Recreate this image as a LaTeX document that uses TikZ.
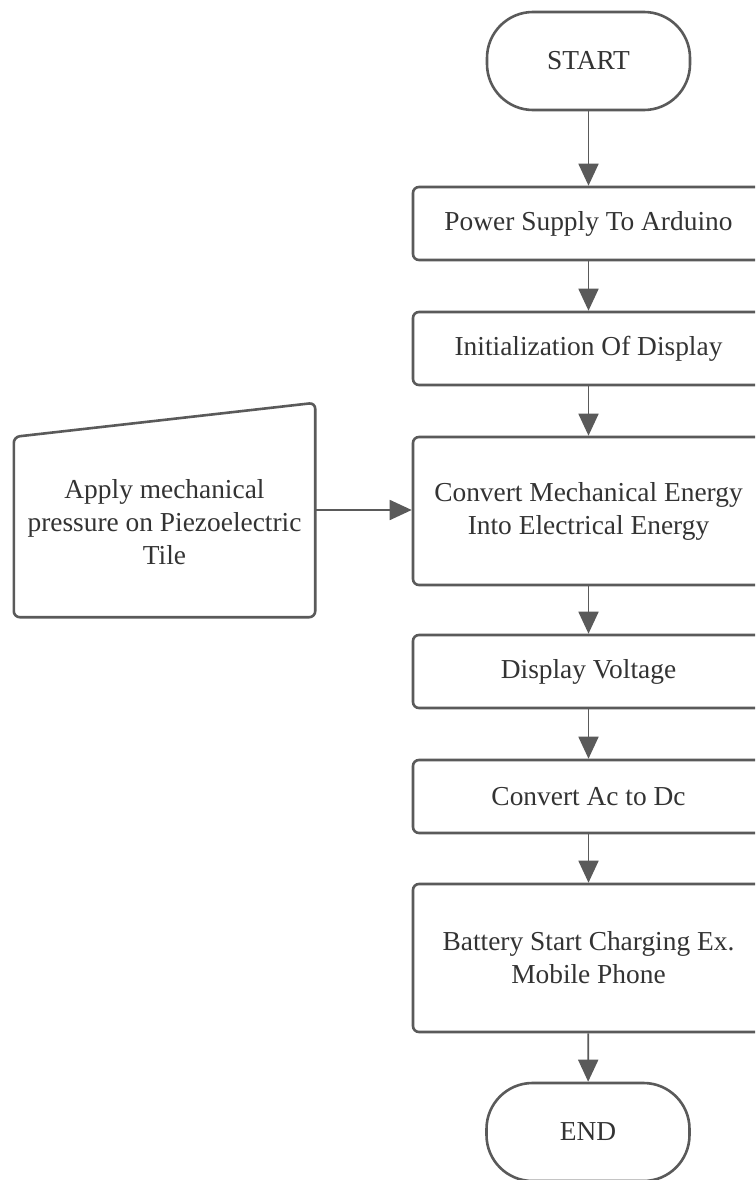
\documentclass[tikz,border=0pt]{standalone}
\usepackage{fontspec}
\setmainfont{Liberation Serif}
\usetikzlibrary{arrows.meta,calc}
\definecolor{linec}{HTML}{5A5A5A}
\definecolor{textc}{HTML}{333333}
\begin{document}
\begin{tikzpicture}[x=1pt,y=-1pt,
  every node/.style={font=\fontsize{27.4}{33}\selectfont, text=textc},
  stepbox/.style={draw=linec, line width=2.6pt, rounded corners=6pt, minimum width=351pt, minimum height=73pt, align=center, inner sep=0pt},
  tallbox/.style={stepbox, minimum height=148pt},
  term/.style={draw=linec, line width=2.6pt, rounded corners=46pt, minimum width=203pt, minimum height=98pt, inner sep=0pt},
  conn/.style={draw=linec, line width=1.8pt, -{Triangle[length=22pt,width=20pt]}}]
\useasboundingbox (0,0) rectangle (755,1180);
\clip (0,0) rectangle (755,1180);
\fill[white] (0,0) rectangle (755,1180);

\node[term] (start) at (588.5,61) {START};
\node[stepbox] (power) at (588.5,223.5) {Power Supply To Arduino};
\node[stepbox] (init) at (588.5,348.5) {Initialization Of Display};
\node[tallbox] (conv) at (588.5,511) {Convert Mechanical Energy\\Into Electrical Energy};
\node[stepbox] (disp) at (588.5,671.5) {Display Voltage};
\node[stepbox] (acdc) at (588.5,796.5) {Convert Ac to Dc};
\node[tallbox] (batt) at (588.5,958) {Battery Start Charging Ex.\\Mobile Phone};
\node[term] (end) at (588,1132) {END};

\node[minimum width=301pt, minimum height=214pt, inner sep=0pt] (manual) at (164.5,510) {};
\draw[draw=linec, line width=2.6pt, rounded corners=6pt]
  ($(manual.north west)!0.159!(manual.south west)$) -- (manual.north east) -- (manual.south east) -- (manual.south west) -- cycle;
\node[align=center, inner sep=0pt] (mtext) at (164.5,522) {Apply mechanical\\pressure on Piezoelectric\\Tile};

\draw[conn] (start) -- (power);
\draw[conn] (power) -- (init);
\draw[conn] (init) -- (conv);
\draw[conn] (conv) -- (disp);
\draw[conn] (disp) -- (acdc);
\draw[conn] (acdc) -- (batt);
\draw[conn] (batt) -- (end);
\draw[conn] (manual.east) -- (manual.east -| conv.west);
\end{tikzpicture}
\end{document}
